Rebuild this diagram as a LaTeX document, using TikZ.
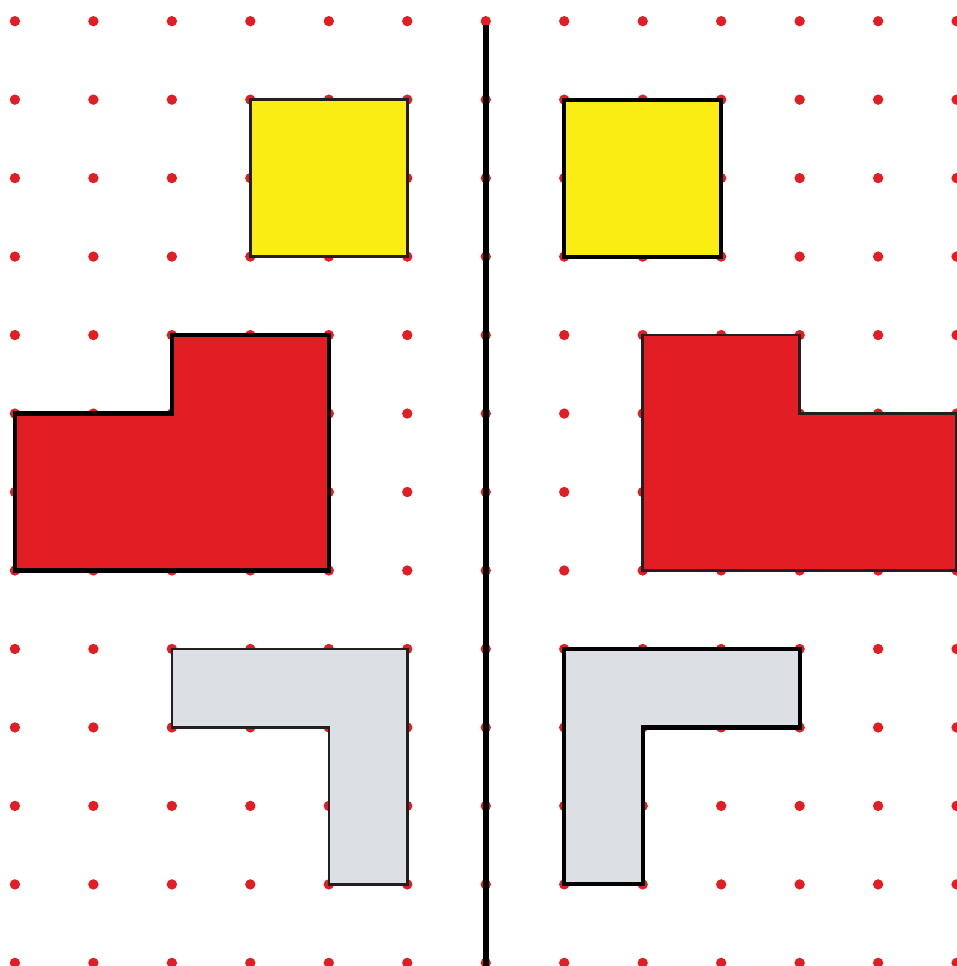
\documentclass[tikz,border=0pt]{standalone}
\usepackage{tikz}
\usepackage{xcolor}
\definecolor{dotRed}{RGB}{226,30,37}
\definecolor{shapeYellow}{RGB}{249,237,20}
\definecolor{shapeRed}{RGB}{226,30,36}
\definecolor{shapeGrey}{RGB}{219,222,226}
\definecolor{edgeGrey}{RGB}{35,31,32}
\tikzset{
    thinedge/.style={draw=edgeGrey, line width=0.9pt},
    thickedge/.style={draw=black, line width=1.5pt},
}

\begin{document}
\begin{tikzpicture}
            \useasboundingbox (-0.19,-12.04) rectangle (12.0,0.27);
            % dot grid
            \foreach \i in {0,...,12}
                \foreach \j in {0,...,12}
                    \fill[dotRed] (\i,-\j) circle (0.066);
            % left half
            \filldraw[fill=shapeYellow, thinedge] (3,-1) rectangle (5,-3);
            \filldraw[fill=shapeRed, thickedge] (0,-5) -- (2,-5) -- (2,-4) -- (4,-4) -- (4,-7) -- (0,-7) -- cycle;
            \filldraw[fill=shapeGrey, thinedge] (2,-8) -- (5,-8) -- (5,-11) -- (4,-11) -- (4,-9) -- (2,-9) -- cycle;
            % right half (mirror image)
            \filldraw[fill=shapeYellow, thickedge] (7,-1) rectangle (9,-3);
            \filldraw[fill=shapeRed, thinedge] (12,-5) -- (10,-5) -- (10,-4) -- (8,-4) -- (8,-7) -- (12,-7) -- cycle;
            \filldraw[fill=shapeGrey, thickedge] (10,-8) -- (7,-8) -- (7,-11) -- (8,-11) -- (8,-9) -- (10,-9) -- cycle;
            % mirror line
            \draw[line width=2.2pt] (6,-0.05) -- (6,-12.04);
        \end{tikzpicture}
\end{document}
